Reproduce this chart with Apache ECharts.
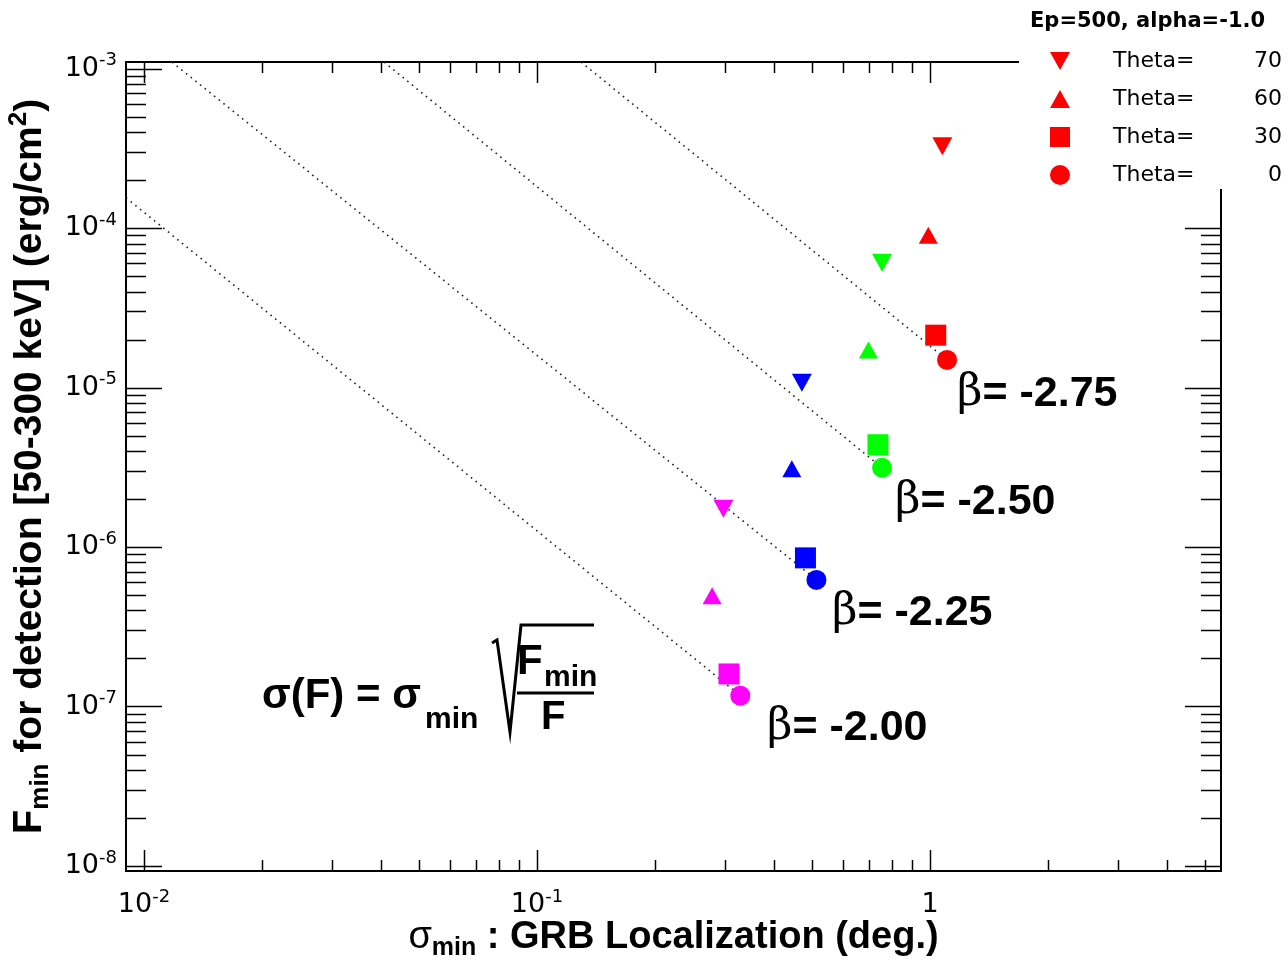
<!DOCTYPE html>
<html>
<head>
<meta charset="utf-8">
<script src="https://cdn.jsdelivr.net/npm/echarts@6/dist/echarts.min.js"></script>
<style>
  html, body { margin: 0; padding: 0; background: #fff; }
  #chart { width: 1288px; height: 966px; }
</style>
</head>
<body>
<div id="chart"></div>
<script>
// ---- data ----
const thetaValues = ['70', '60', '30', '0'];
const betaLabels = ['-2.75', '-2.50', '-2.25', '-2.00'];
const betaColors = ['#ff0000', '#00ff00', '#0000ff', '#ff00ff'];

// [sigma_min (deg), F_min (erg/cm2)] for beta = -2.75, -2.50, -2.25, -2.00
const theta70 = [[1.075, 3.26e-4], [0.755, 6.07e-5], [0.472, 1.07e-5], [0.298, 1.74e-6]];
const theta60 = [[0.990, 9.0e-5], [0.697, 1.72e-5], [0.445, 3.10e-6], [0.279, 4.94e-7]];
const theta30 = [[1.034, 2.13e-5], [0.737, 4.38e-6], [0.482, 8.55e-7], [0.308, 1.60e-7]];
const theta0  = [[1.105, 1.49e-5], [0.755, 3.14e-6], [0.514, 6.22e-7], [0.329, 1.17e-7]];

// dotted sigma(F) = sigma_min sqrt(Fmin/F) guide lines: [start, end]
const guideRed     = [[0.1294, 1.1e-3], [1.105, 1.49e-5]];
const guideGreen   = [[0.0408, 1.1e-3], [0.755, 3.14e-6]];
const guideBlue    = [[0.01178, 1.1e-3], [0.514, 6.22e-7]];
const guideMagenta = [[0.009, 1.55e-4], [0.329, 1.17e-7]];

// axis ranges and ticks
const xRange = [0.009, 5.5];
const yRange = [9.3e-9, 1.1e-3];
const xMajor = [0.01, 0.1, 1];
const xMinor = [0.02, 0.03, 0.04, 0.05, 0.06, 0.07, 0.08, 0.09,
                0.2, 0.3, 0.4, 0.5, 0.6, 0.7, 0.8, 0.9,
                2, 3, 4, 5];
const yMajor = [1e-8, 1e-7, 1e-6, 1e-5, 1e-4, 1e-3];
const yMinor = [2e-8, 3e-8, 4e-8, 5e-8, 6e-8, 7e-8, 8e-8, 9e-8,
                2e-7, 3e-7, 4e-7, 5e-7, 6e-7, 7e-7, 8e-7, 9e-7,
                2e-6, 3e-6, 4e-6, 5e-6, 6e-6, 7e-6, 8e-6, 9e-6,
                2e-5, 3e-5, 4e-5, 5e-5, 6e-5, 7e-5, 8e-5, 9e-5,
                2e-4, 3e-4, 4e-4, 5e-4, 6e-4, 7e-4, 8e-4, 9e-4];

// ---- build chart ----
const chart = echarts.init(document.getElementById('chart'), null, { renderer: 'canvas' });

const tickData = [];
xMajor.forEach(v => tickData.push([v, 1e-6, 1, 1]));
xMinor.forEach(v => tickData.push([v, 1e-6, 1, 0]));
yMajor.forEach(v => tickData.push([0.1, v, 0, 1]));
yMinor.forEach(v => tickData.push([0.1, v, 0, 0]));

const downTri = 'path://M0,0 L20,0 L10,18 Z';
const upTri = 'path://M10,0 L20,18 L0,18 Z';
const symbols = [downTri, upTri, 'rect', 'circle'];
const symbolSizes = [[20, 18], [19, 17], 21, 20];
const thetaData = [theta70, theta60, theta30, theta0];

function colored(points) {
  return points.map((p, i) => ({ value: p, itemStyle: { color: betaColors[i] } }));
}

function powLabel(value) {
  const e = Math.round(Math.log10(value));
  if (e === 0) return '{n|1}';
  return '{n|10}{s|' + e + '}';
}

const labelRich = {
  n: { fontFamily: 'DejaVu Sans', fontSize: 27, color: '#000', lineHeight: 34 },
  s: { fontFamily: 'DejaVu Sans', fontSize: 18, color: '#000', verticalAlign: 'top' }
};

const series = [];
const guides = [guideRed, guideGreen, guideBlue, guideMagenta];
guides.forEach(g => series.push({
  type: 'line', data: g, symbol: 'none', silent: true, z: 2,
  lineStyle: { color: '#222', width: 1.6, type: [1.6, 4.4] }
}));

thetaValues.forEach((t, k) => series.push({
  name: t, type: 'scatter', z: 5,
  symbol: symbols[k], symbolSize: symbolSizes[k],
  itemStyle: { color: '#ff0000', opacity: 1 },
  data: colored(thetaData[k])
}));

series.push({
  type: 'custom', silent: true, z: 6, clip: false,
  dimensions: ['x', 'y', 'isX', 'major'],
  encode: { x: 0, y: 1 },
  data: tickData,
  renderItem: function (params, api) {
    const cs = params.coordSys;
    const isX = api.value(2) === 1;
    const major = api.value(3) === 1;
    const st = { stroke: '#000', lineWidth: 1.5 };
    if (isX) {
      const px = Math.round(api.coord([api.value(0), 1e-6])[0]) + 0.5;
      const L = major ? 21 : 11;
      const b = cs.y + cs.height;
      return { type: 'group', children: [
        { type: 'line', shape: { x1: px, y1: b, x2: px, y2: b - L }, style: st },
        { type: 'line', shape: { x1: px, y1: cs.y, x2: px, y2: cs.y + L }, style: st }
      ]};
    } else {
      const py = Math.round(api.coord([0.1, api.value(1)])[1]) + 0.5;
      const L = major ? 36 : 20;
      const r = cs.x + cs.width;
      return { type: 'group', children: [
        { type: 'line', shape: { x1: cs.x, y1: py, x2: cs.x + L, y2: py }, style: st },
        { type: 'line', shape: { x1: r, y1: py, x2: r - L, y2: py }, style: st }
      ]};
    }
  }
});

const betaPos = [[957, 393], [895, 501], [832, 612], [767, 727]];
const graphics = betaLabels.map((b, i) => ({
  type: 'text', left: betaPos[i][0], top: betaPos[i][1] - 21, z: 10,
  style: {
    text: '{b|β}{t|= ' + b + '}',
    rich: {
      b: { fontFamily: 'DejaVu Serif', fontSize: 44, fill: '#000', lineHeight: 54 },
      t: { fontFamily: 'Liberation Sans', fontWeight: 'bold', fontSize: 43, fill: '#000', lineHeight: 54 }
    }
  }
}));

// formula sigma(F) = sigma_min sqrt(F_min / F)
graphics.push(
  { type: 'text', left: 262, top: 675, z: 10,
    style: { text: 'σ(F) = σ', font: 'bold 42px "Liberation Sans"', fill: '#000' } },
  { type: 'text', left: 425, top: 705, z: 10,
    style: { text: 'min', font: 'bold 30px "Liberation Sans"', fill: '#000' } },
  { type: 'polyline', z: 10,
    shape: { points: [[492, 643], [497, 640], [510, 732], [521, 625], [594, 625]] },
    style: { stroke: '#000', lineWidth: 3, fill: null } },
  { type: 'text', left: 517, top: 641, z: 10,
    style: { text: 'F', font: 'bold 42px "Liberation Sans"', fill: '#000' } },
  { type: 'text', left: 544, top: 663, z: 10,
    style: { text: 'min', font: 'bold 30px "Liberation Sans"', fill: '#000' } },
  { type: 'line', z: 10, shape: { x1: 517, y1: 693, x2: 594, y2: 693 },
    style: { stroke: '#000', lineWidth: 3 } },
  { type: 'text', left: 541, top: 698, z: 10,
    style: { text: 'F', font: 'bold 40px "Liberation Sans"', fill: '#000' } },
  // white legend box covering the frame corner
  { type: 'rect', z: 20, shape: { x: 1019, y: 0, width: 269, height: 189 },
    style: { fill: '#fff', stroke: null } }
);

const option = {
  backgroundColor: '#fff',
  animation: false,
  title: {
    text: 'Ep=500, alpha=-1.0', left: 1030, top: 11, padding: 0, z: 30,
    textStyle: { fontFamily: 'DejaVu Sans', fontWeight: 'bold', fontSize: 21, color: '#000' }
  },
  legend: {
    orient: 'vertical', right: 6, top: 50, padding: 0, z: 30,
    itemWidth: 20, itemHeight: 20, itemGap: 16,
    selectedMode: false,
    data: thetaValues,
    formatter: n => '{a|Theta=}{b|' + n + '}',
    textStyle: {
      rich: {
        a: { fontFamily: 'DejaVu Sans', fontSize: 22, color: '#000', width: 100, padding: [0, 0, 0, 38], lineHeight: 20 },
        b: { fontFamily: 'DejaVu Sans', fontSize: 22, color: '#000', width: 69, align: 'right', lineHeight: 20 }
      }
    }
  },
  grid: {
    left: 126, right: 67, top: 62, bottom: 95,
    containLabel: false, outerBoundsMode: 'none',
    show: true, borderColor: '#000', borderWidth: 2, backgroundColor: 'transparent'
  },
  xAxis: {
    type: 'log', logBase: 10, min: xRange[0], max: xRange[1],
    axisLine: { show: true, lineStyle: { color: '#000', width: 2 } },
    axisTick: { show: false }, splitLine: { show: false }, minorTick: { show: false },
    axisLabel: {
      margin: 17, showMinLabel: false, showMaxLabel: false,
      formatter: powLabel, rich: labelRich
    },
    name: '{s|σ}{sub|min}{t| : GRB Localization (deg.)}',
    nameLocation: 'middle', nameGap: 44, nameMoveOverlap: false,
    nameTextStyle: {
      rich: {
        s: { fontFamily: 'Liberation Sans', fontSize: 38, color: '#000', lineHeight: 46 },
        sub: { fontFamily: 'Liberation Sans', fontWeight: 'bold', fontSize: 25, color: '#000', verticalAlign: 'bottom' },
        t: { fontFamily: 'Liberation Sans', fontWeight: 'bold', fontSize: 38, color: '#000', lineHeight: 46 }
      }
    }
  },
  yAxis: {
    type: 'log', logBase: 10, min: yRange[0], max: yRange[1],
    axisLine: { show: true, lineStyle: { color: '#000', width: 2 } },
    axisTick: { show: false }, splitLine: { show: false }, minorTick: { show: false },
    axisLabel: {
      margin: 9, showMinLabel: false, showMaxLabel: false,
      formatter: powLabel, rich: labelRich
    },
    name: '{F|F}{sub|min}{t| for detection [50-300 keV] (erg/cm}{sup|2}{t|)}',
    nameLocation: 'middle', nameGap: 70,
    nameTextStyle: {
      rich: {
        F: { fontFamily: 'Liberation Sans', fontWeight: 'bold', fontSize: 40, color: '#000', lineHeight: 48 },
        sub: { fontFamily: 'Liberation Sans', fontWeight: 'bold', fontSize: 26, color: '#000', verticalAlign: 'bottom' },
        sup: { fontFamily: 'Liberation Sans', fontWeight: 'bold', fontSize: 26, color: '#000', verticalAlign: 'top' },
        t: { fontFamily: 'Liberation Sans', fontWeight: 'bold', fontSize: 39, color: '#000', lineHeight: 48 }
      }
    }
  },
  graphic: graphics,
  series: series
};

chart.setOption(option);
</script>
</body>
</html>
